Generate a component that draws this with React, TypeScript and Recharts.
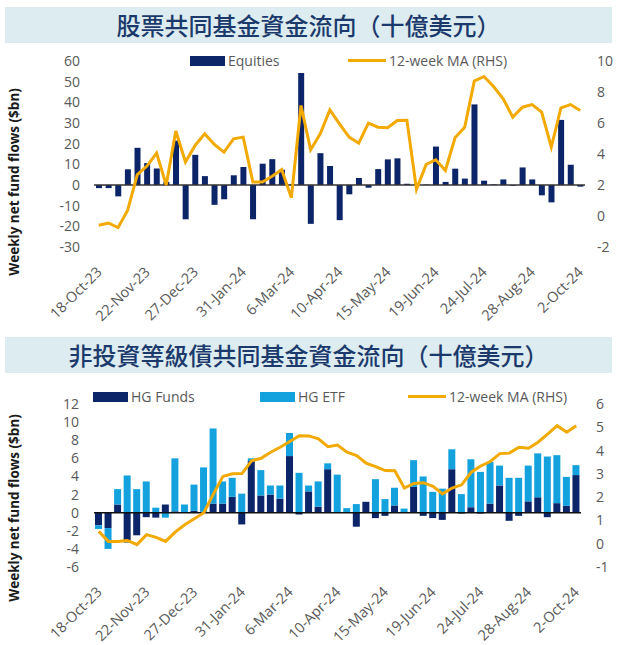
import React from "react";
import { ComposedChart, Bar, Line, XAxis, YAxis, ReferenceLine } from "recharts";

// weekly dates, 18-Oct-23 .. 2-Oct-24
const weeks = [
  "18-Oct-23", "25-Oct-23", "1-Nov-23", "8-Nov-23", "15-Nov-23", "22-Nov-23", "29-Nov-23",
  "6-Dec-23", "13-Dec-23", "20-Dec-23", "27-Dec-23", "3-Jan-24", "10-Jan-24", "17-Jan-24",
  "24-Jan-24", "31-Jan-24", "7-Feb-24", "14-Feb-24", "21-Feb-24", "28-Feb-24", "6-Mar-24",
  "13-Mar-24", "20-Mar-24", "27-Mar-24", "3-Apr-24", "10-Apr-24", "17-Apr-24", "24-Apr-24",
  "1-May-24", "8-May-24", "15-May-24", "22-May-24", "29-May-24", "5-Jun-24", "12-Jun-24",
  "19-Jun-24", "26-Jun-24", "3-Jul-24", "10-Jul-24", "17-Jul-24", "24-Jul-24", "31-Jul-24",
  "7-Aug-24", "14-Aug-24", "21-Aug-24", "28-Aug-24", "4-Sep-24", "11-Sep-24", "18-Sep-24",
  "25-Sep-24", "2-Oct-24",
];

// equity fund flows ($bn)
const equities = [
  -1.5, -1.5, -5.5, 7.6, 18.0, 10.6, 8.0, 1.5, 21.5, -16.6,
  14.6, 4.3, -9.6, -6.9, 4.7, 8.7, -16.6, 10.3, 12.5, 7.4,
  0.3, 54.2, -18.8, 15.4, 9.2, -17.0, -4.5, 3.4, -1.3, 7.7,
  12.4, 12.9, 0.6, 0.3, 0.2, 18.6, 1.5, 7.9, 3.1, 39.0,
  2.1, 0.3, 2.7, -0.4, 8.5, 2.7, -5.0, -8.4, 31.5, 9.8,
  -0.8,
];
const equitiesMA = [
  -0.6, -0.45, -0.75, 0.37, 2.67, 3.22, 4.06, 2.0, 5.48, 3.48,
  4.55, 5.3, 4.62, 4.12, 4.98, 5.09, 2.19, 2.19, 2.56, 2.99,
  1.18, 7.13, 4.27, 5.3, 6.85, 5.95, 5.09, 4.7, 5.99, 5.73,
  5.69, 6.16, 6.18, 1.72, 3.33, 3.63, 2.94, 5.05, 5.73, 8.7,
  9.0, 8.35, 7.56, 6.38, 7.02, 7.19, 6.7, 4.45, 6.98, 7.19,
  6.8,
];

// HG flows ($bn)
const hgFunds = [
  -1.4, -1.7, 0.9, -3.3, -2.5, -0.5, -0.55, 0.9, 0.15, 0.05,
  0.2, 0.1, 1.0, 1.0, 1.75, -1.3, 5.7, 1.9, 2.0, 1.55,
  6.25, -0.2, 2.35, 0.65, 4.8, 0.05, 0.05, -1.55, 1.2, -0.6,
  -0.35, 0.8, 0.05, 2.85, -0.35, -0.6, -0.8, 4.8, -0.1, 0.6,
  -0.1, 1.0, 3.0, -0.9, -0.35, 1.25, 1.7, -0.5, 1.05, 0.75,
  4.15,
];
const hgEtf = [
  -0.4, -2.3, 1.7, 4.1, 2.6, 3.45, 0.55, -0.55, 5.85, 0.85,
  2.9, 4.9, 8.3, 2.45, 2.1, 2.1, 0.3, 2.8, 1.0, 1.45,
  2.55, 4.4, 0.65, 2.8, 0.65, 4.15, 0.45, 0.95, 0.0, 3.7,
  1.5, 1.95, 0.4, 2.95, 4.0, 2.3, 2.65, 2.2, 2.05, 5.3,
  4.5, 4.6, 2.2, 3.85, 3.85, 3.95, 4.85, 6.2, 5.3, 3.2,
  1.1,
];
const hgMA = [
  0.53, 0.1, 0.1, 0.14, -0.04, 0.39, 0.27, 0.1, 0.5, 0.81,
  1.07, 1.33, 2.13, 2.89, 3.0, 3.01, 3.56, 3.67, 3.93, 4.14,
  4.39, 4.64, 4.63, 4.5, 4.17, 4.24, 3.93, 3.79, 3.46, 3.31,
  3.14, 3.13, 2.39, 2.59, 2.62, 2.46, 2.14, 2.39, 2.53, 3.07,
  3.34, 3.53, 3.87, 3.89, 4.14, 4.1, 4.36, 4.71, 5.07, 4.79,
  5.07,
];

const eqTicksL = [-30, -20, -10, 0, 10, 20, 30, 40, 50, 60];
const eqTicksR = [-2, 0, 2, 4, 6, 8, 10];
const hgTicksL = [-6, -4, -2, 0, 2, 4, 6, 8, 10, 12];
const hgTicksR = [-1, 0, 1, 2, 3, 4, 5, 6];

const NAVY = "#0c2568";
const SKY = "#14a2de";
const GOLD = "#f2a900";
const GREY = "#595959";
const FONT = "'Open Sans', sans-serif";
const CJK = "'Noto Sans CJK TC', sans-serif";

const eqData = weeks.map((w, i) => ({ week: w, eq: equities[i], ma: equitiesMA[i] }));
const hgData = weeks.map((w, i) => ({ week: w, funds: hgFunds[i], etf: hgEtf[i], ma: hgMA[i] }));

function DateTick(props: any) {
  const { x, y, payload } = props;
  const ax = x + 4;
  const ay = y + 18;
  return (
    <text
      x={ax}
      y={ay}
      transform={`rotate(-45, ${ax}, ${ay})`}
      textAnchor="end"
      fill={GREY}
      fontSize={14.5}
      fontFamily={FONT}
    >
      {payload.value}
    </text>
  );
}

function TitleBand({ top, text }: { top: number; text: string }) {
  return (
    <div
      style={{
        position: "absolute",
        left: 5,
        top,
        width: 607,
        height: 36,
        background: "#dcecf1",
        color: "#1b3a6b",
        fontFamily: CJK,
        fontSize: 24,
        fontWeight: 500,
        lineHeight: "36px",
        textAlign: "center",
      }}
    >
      {text}
    </div>
  );
}

function YLabel({ cy }: { cy: number }) {
  return (
    <div
      style={{
        position: "absolute",
        left: 14 - 120,
        top: cy - 10,
        width: 240,
        height: 20,
        lineHeight: "20px",
        textAlign: "center",
        transform: "rotate(-90deg)",
        fontFamily: FONT,
        fontWeight: 700,
        fontSize: 13.5,
        color: "#1a1a1a",
        whiteSpace: "nowrap",
      }}
    >
      Weekly net fund flows ($bn)
    </div>
  );
}

function Swatch({ left, top, color, text }: { left: number; top: number; color: string; text: string }) {
  return (
    <div style={{ position: "absolute", left, top, display: "flex", alignItems: "center", fontFamily: FONT, fontSize: 14, color: GREY }}>
      <span style={{ display: "inline-block", width: 35, height: 10, background: color, marginRight: 3 }} />
      {text}
    </div>
  );
}

function LineKey({ left, top, text }: { left: number; top: number; text: string }) {
  return (
    <div style={{ position: "absolute", left, top, display: "flex", alignItems: "center", fontFamily: FONT, fontSize: 14, color: GREY }}>
      <span style={{ display: "inline-block", width: 38, height: 3, background: GOLD, marginRight: 3 }} />
      {text}
    </div>
  );
}

const tickStyle = { fill: GREY, fontSize: 14, fontFamily: FONT };

export default function App() {
  return (
    <div style={{ position: "absolute", left: 0, top: 0, width: 618, height: 645, background: "#fff", overflow: "hidden" }}>
      <TitleBand top={7} text="股票共同基金資金流向（十億美元）" />

      <div style={{ position: "absolute", left: 0, top: 44 }}>
        <ComposedChart width={618} height={290} data={eqData} margin={{ top: 17, right: 0, left: 0, bottom: 7 }} barSize={6}>
          <XAxis
            dataKey="week"
            interval={4}
            tickLine={false}
            axisLine={false}
            height={80}
            tick={<DateTick />}
          />
          <YAxis
            yAxisId="left"
            width={94}
            domain={[-30, 60]}
            ticks={eqTicksL}
            interval={0}
            tickLine={false}
            axisLine={false}
            tickMargin={8}
            tick={tickStyle}
          />
          <YAxis
            yAxisId="right"
            orientation="right"
            width={33}
            domain={[-2, 10]}
            ticks={eqTicksR}
            interval={0}
            tickLine={false}
            axisLine={false}
            tickMargin={6}
            tick={{ ...tickStyle, textAnchor: "start" }}
          />
          <Bar yAxisId="left" dataKey="eq" fill={NAVY} isAnimationActive={false} />
          <ReferenceLine yAxisId="left" y={0} stroke="#333" strokeWidth={1.5} />
          <Line
            yAxisId="right"
            dataKey="ma"
            type="linear"
            stroke={GOLD}
            strokeWidth={3}
            dot={false}
            isAnimationActive={false}
          />
        </ComposedChart>
      </div>
      <Swatch left={190} top={51} color={NAVY} text="Equities" />
      <LineKey left={348} top={51} text="12-week MA (RHS)" />
      <YLabel cy={182} />

      <TitleBand top={337} text="非投資等級債共同基金資金流向（十億美元）" />

      <div style={{ position: "absolute", left: 0, top: 380 }}>
        <ComposedChart
          width={618}
          height={265}
          data={hgData}
          stackOffset="sign"
          margin={{ top: 24, right: 0, left: 0, bottom: 3 }}
          barSize={7}
        >
          <XAxis
            dataKey="week"
            interval={4}
            tickLine={false}
            axisLine={false}
            height={75}
            tick={<DateTick />}
          />
          <YAxis
            yAxisId="left"
            width={94}
            domain={[-6, 12]}
            ticks={hgTicksL}
            interval={0}
            tickLine={false}
            axisLine={false}
            tickMargin={9}
            tick={tickStyle}
          />
          <YAxis
            yAxisId="right"
            orientation="right"
            width={37}
            domain={[-1, 6]}
            ticks={hgTicksR}
            interval={0}
            tickLine={false}
            axisLine={false}
            tickMargin={9}
            tick={{ ...tickStyle, textAnchor: "start" }}
          />
          <Bar yAxisId="left" dataKey="funds" stackId="hg" fill={NAVY} isAnimationActive={false} />
          <Bar yAxisId="left" dataKey="etf" stackId="hg" fill={SKY} isAnimationActive={false} />
          <ReferenceLine yAxisId="left" y={0} stroke="#111" strokeWidth={1.5} />
          <Line
            yAxisId="right"
            dataKey="ma"
            type="linear"
            stroke={GOLD}
            strokeWidth={3}
            dot={false}
            isAnimationActive={false}
          />
        </ComposedChart>
      </div>
      <Swatch left={93} top={387} color={NAVY} text="HG Funds" />
      <Swatch left={260} top={387} color={SKY} text="HG ETF" />
      <LineKey left={408} top={387} text="12-week MA (RHS)" />
      <YLabel cy={508} />
    </div>
  );
}
